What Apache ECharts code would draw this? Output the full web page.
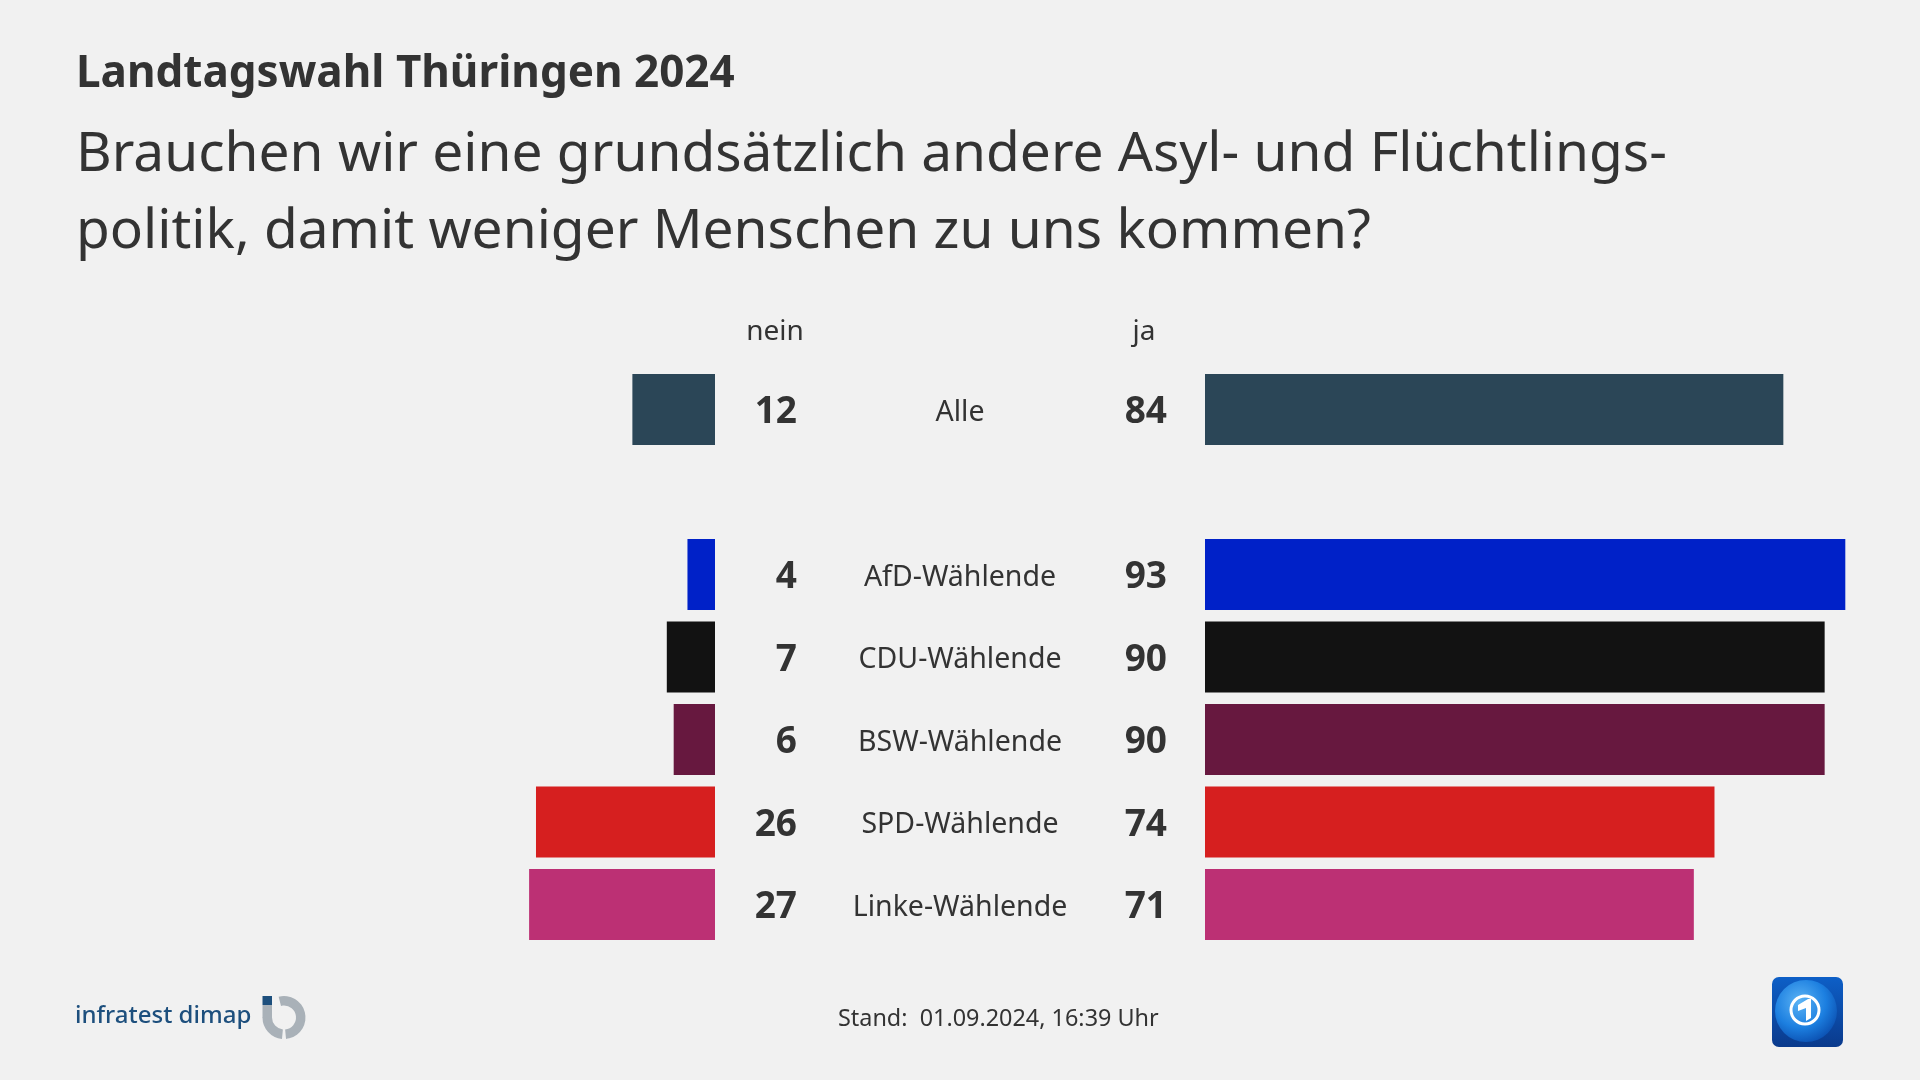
<!DOCTYPE html>
<html>
<head>
<meta charset="utf-8">
<script src="https://cdn.jsdelivr.net/npm/echarts@6/dist/echarts.min.js"></script>
<style>
html,body{margin:0;padding:0;background:#f1f1f1;}
#chart{width:1920px;height:1080px;}
</style>
</head>
<body>
<div id="chart"></div>
<script>
// ---- data ----
const categories = ['Alle', '', 'AfD-Wählende', 'CDU-Wählende', 'BSW-Wählende', 'SPD-Wählende', 'Linke-Wählende'];
const neinValues = [12, null, 4, 7, 6, 26, 27];
const jaValues = [84, null, 93, 90, 90, 74, 71];
const barColors = ['#2b4657', 'transparent', '#0021c8', '#121212', '#67183f', '#d61f1f', '#bc3074'];
const titleText = 'Landtagswahl Thüringen 2024';
const subtitleLines = ['Brauchen wir eine grundsätzlich andere Asyl- und Flüchtlings-', 'politik, damit weniger Menschen zu uns kommen?'];
const headerNein = 'nein';
const headerJa = 'ja';
const footerText = 'Stand:  01.09.2024, 16:39 Uhr';
const sourceText = 'infratest dimap';

const FONT = '"Noto Sans", "Open Sans", sans-serif';
const TXT = '#333333';

const chart = echarts.init(document.getElementById('chart'), null, {renderer: 'canvas'});

const gridTop = 368.25, gridH = 577.5;

const hiddenY = {
  type: 'category', inverse: true, data: categories,
  axisLine: {show: false}, axisTick: {show: false}, splitLine: {show: false}
};
const richVal = {v: {fontFamily: FONT, fontWeight: 'bold', fontSize: 37, color: TXT, padding: [6, 0, 0, 0]}};
const richCat = {c: {fontFamily: FONT, fontSize: 28.5, color: TXT, padding: [6, 0, 0, 0]}};

const option = {
  backgroundColor: '#f1f1f1',
  animation: false,
  grid: [
    {left: 26.5, width: 688.5, top: gridTop, height: gridH},
    {left: 1205, width: 688.5, top: gridTop, height: gridH}
  ],
  xAxis: [
    {type: 'value', gridIndex: 0, min: 0, max: 100, inverse: true, show: false},
    {type: 'value', gridIndex: 1, min: 0, max: 100, show: false}
  ],
  yAxis: [
    Object.assign({}, hiddenY, {
      gridIndex: 1, position: 'left',
      axisLabel: {
        margin: 38, align: 'right', rich: richVal,
        formatter: (v, i) => (jaValues[i] == null ? '' : '{v|' + jaValues[i] + '}')
      }
    }),
    Object.assign({}, hiddenY, {
      gridIndex: 1, position: 'left',
      axisLabel: {
        margin: 245, align: 'center', rich: richCat,
        formatter: (v) => (v === '' ? '' : '{c|' + v + '}')
      }
    }),
    Object.assign({}, hiddenY, {
      gridIndex: 0, position: 'right',
      axisLabel: {
        margin: 82, align: 'right', rich: richVal,
        formatter: (v, i) => (neinValues[i] == null ? '' : '{v|' + neinValues[i] + '}')
      }
    })
  ],
  series: [
    {
      name: 'nein', type: 'bar', xAxisIndex: 0, yAxisIndex: 2, barWidth: 71,
      data: neinValues.map((v, i) => ({value: v, itemStyle: {color: barColors[i]}})),
      silent: true
    },
    {
      name: 'ja', type: 'bar', xAxisIndex: 1, yAxisIndex: 0, barWidth: 71,
      data: jaValues.map((v, i) => ({value: v, itemStyle: {color: barColors[i]}})),
      silent: true
    }
  ],
  graphic: [
    {type: 'text', x: 76, y: 74, style: {text: titleText, font: 'bold 44px ' + FONT, fill: TXT, verticalAlign: 'middle'}},
    {type: 'text', x: 76, y: 155.5, style: {text: subtitleLines[0], font: '55px ' + FONT, fill: TXT, verticalAlign: 'middle'}},
    {type: 'text', x: 76, y: 232.5, style: {text: subtitleLines[1], font: '55px ' + FONT, fill: TXT, verticalAlign: 'middle'}},
    {type: 'text', x: 775, y: 332.5, style: {text: headerNein, font: '28px ' + FONT, fill: TXT, align: 'center', verticalAlign: 'middle'}},
    {type: 'text', x: 1144, y: 332.5, style: {text: headerJa, font: '28px ' + FONT, fill: TXT, align: 'center', verticalAlign: 'middle'}},
    {type: 'text', x: 838, y: 1019.5, style: {text: footerText, font: '23.4px ' + FONT, fill: TXT, align: 'left', verticalAlign: 'middle'}},
    // infratest dimap logo
    {type: 'text', x: 75, y: 1016, style: {text: sourceText, font: '500 24px ' + FONT, fill: '#1d4f7d', align: 'left', verticalAlign: 'middle'}},
    {type: 'sector', shape: {cx: 284, cy: 1017.5, r: 21.5, r0: 12, startAngle: -Math.PI * 0.58, endAngle: Math.PI * 0.47, clockwise: true}, style: {fill: '#a9b1b8'}},
    {type: 'sector', shape: {cx: 284, cy: 1017.5, r: 21.5, r0: 12, startAngle: Math.PI * 0.53, endAngle: Math.PI * 1.0, clockwise: true}, style: {fill: '#a9b1b8'}},
    {type: 'rect', shape: {x: 262.5, y: 1005, width: 9.5, height: 13}, style: {fill: '#a9b1b8'}},
    {type: 'rect', shape: {x: 262.5, y: 996, width: 9.5, height: 9}, style: {fill: '#1d4f7d'}},
    // ARD tagesschau logo
    {type: 'rect', shape: {x: 1772, y: 977, width: 71, height: 70, r: 7},
      style: {fill: {type: 'linear', x: 0, y: 0, x2: 0, y2: 1, colorStops: [{offset: 0, color: '#0d5fc7'}, {offset: 1, color: '#0a3a8c'}]}}},
    {type: 'circle', shape: {cx: 1806, cy: 1011, r: 31},
      style: {fill: {type: 'radial', x: 0.4, y: 0.35, r: 0.7, colorStops: [{offset: 0, color: '#5bb3f5'}, {offset: 0.6, color: '#1c7fe0'}, {offset: 1, color: '#0b4fb0'}]}}},
    {type: 'circle', shape: {cx: 1805, cy: 1010, r: 14}, style: {fill: 'none', stroke: '#ffffff', lineWidth: 3}},
    {type: 'polygon', shape: {points: [[1798, 1005], [1808, 999], [1811, 999], [1811, 1018], [1806, 1021], [1806, 1008], [1798, 1011]]}, style: {fill: '#ffffff'}}
  ]
};

chart.setOption(option);
</script>
</body>
</html>
